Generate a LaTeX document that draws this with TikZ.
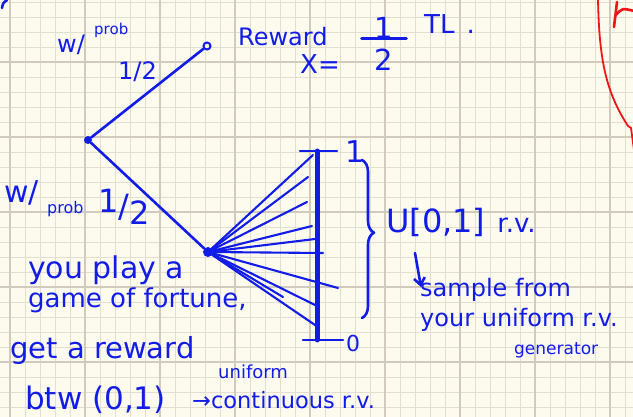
\documentclass[tikz,border=0pt]{standalone}
\usepackage{fontspec}
\setmainfont{DejaVu Sans}
\usetikzlibrary{arrows.meta, positioning, decorations.pathreplacing}
\definecolor{ink}{RGB}{18,28,232}
\definecolor{redink}{RGB}{240,22,22}
\definecolor{paper}{RGB}{253,251,238}
\definecolor{gridminor}{RGB}{226,222,208}
\definecolor{gridmajor}{RGB}{208,203,188}

\begin{document}
\begin{tikzpicture}[x=1pt, y=-1pt, >={Straight Barb[length=7pt, width=11pt]},
  pen/.style={draw=ink, line width=2.6pt, line cap=round, line join=round},
  hand/.style={text=ink, inner sep=0pt, anchor=west, font=\fontsize{#1}{#1}\selectfont},
  hand/.default=24,
  dot/.style={circle, fill=ink, inner sep=0pt, minimum size=8pt},
  opendot/.style={circle, draw=ink, line width=2pt, fill=paper, inner sep=0pt, minimum size=7pt}]

  % squared paper
  \useasboundingbox (0,0) rectangle (633,417);
  \fill[paper] (0,0) rectangle (633,417);
  \foreach \x in {10,25,...,625} \draw[gridminor, line width=0.8pt] (\x,0) -- (\x,417);
  \foreach \y in {2,17,...,415} \draw[gridminor, line width=0.8pt] (0,\y) -- (633,\y);
  \foreach \x in {10,85,...,610} \draw[gridmajor, line width=1.6pt] (\x,0) -- (\x,417);
  \foreach \y in {62,137,...,400} \draw[gridmajor, line width=1.6pt] (0,\y) -- (633,\y);

  % the two branches
  \node[dot] (root) at (88,140) {};
  \node[opendot] (win) at (207,46) {};
  \node[dot, minimum size=10pt] (game) at (208,252) {};
  \draw[pen] (root) -- (win);
  \draw[pen] (root) -- (game);

  % the [0,1] bar and the fan
  \coordinate (one) at (317,151);
  \coordinate (zero) at (317,340);
  \draw[pen, line width=5pt] (one) -- (zero);
  \draw[pen] ([xshift=-17pt]one) -- ([xshift=20pt]one);
  \draw[pen] ([xshift=-14pt]zero) -- ([xshift=26pt]zero);
  \foreach \fx/\fy [count=\i] in {313/155, 308/177, 307/202, 312/226, 315/239,
                                  323/253, 338/288, 315/305, 315/325, 283/297} {
    \coordinate (f\i) at (\fx,\fy);
    \draw[pen, line width=2.1pt] (game) -- (f\i);
  }
  \node[hand=30] (lblone) at (345,152) {1};
  \node[hand=22] (lblzero) at (346,343) {0};
  \draw[pen, decorate, decoration={brace, amplitude=12pt, aspect=0.46}] (362,160) -- (362,318);

  % upper branch labels
  \node[hand=24] (wA) at (57,45) {w/};
  \node[hand=15] (probA) at (94,30) {prob};
  \node[hand=24] (halfA) at (118,72) {1/2};
  \node[hand=24] (reward) at (238,37) {Reward};
  \node[hand=26] (xeq) at (300,64) {X=};
  \node[hand=29, anchor=center] (num) at (384,28) {1};
  \node[hand=29, anchor=center] (den) at (384,60) {2};
  \draw[pen, line width=3pt] ([xshift=-13pt]num.south west) -- ([xshift=13pt]num.south east);
  \node[hand=26] (tl) at (424,24) {TL\hspace{12pt}.};

  % lower branch labels
  \node[hand=30] (wB) at (4,193) {w/};
  \node[hand=16] (probB) at (47,209) {prob};
  \node[hand=32] (halfB) at (98,207) {\raisebox{0.3ex}{1}/\raisebox{-0.4ex}{2}};
  \node[hand=30] (play) at (28,270) {you play a};
  \node[hand=26] (fortune) at (28,300) {game of fortune,};
  \node[hand=29] (getrew) at (10,350) {get a reward};
  \node[hand=31] (btw) at (25,400) {btw (0,1)};
  \node[hand=18] (unif) at (218,372) {uniform};
  \node[hand=22.5] (cont) at (192,400) {→continuous r.v.};

  % right side notes
  \node[hand=32] (urv) at (386,222) {U[0,1]{\fontsize{26}{26}\selectfont\hspace{12pt}r.v.}};
  \coordinate (arrtop) at (415,253);
  \coordinate (arrtip) at (421,287);
  \draw[pen, ->] (arrtop) -- (arrtip);
  \node[hand=24] (sample) at (420,290) {sample from};
  \node[hand=24] (yourunif) at (420,320) {your uniform r.v.};
  \node[hand=17] (gen) at (514,350) {generator};

  % bits of other writing cut off at the edges
  \draw[pen] (7,0) .. controls (3,3) .. (2,8);
  \draw[redink, line width=1.8pt, line cap=round] (598,-2) .. controls (599,60) and (606,92) .. (628,126) -- (631,128) -- (634,150);
  \draw[redink, line width=2.6pt, line cap=round] (614,27) -- (617,2);
  \draw[redink, line width=2.6pt, line cap=round] (615,16) .. controls (622,8) .. (634,11);
\end{tikzpicture}
\end{document}
